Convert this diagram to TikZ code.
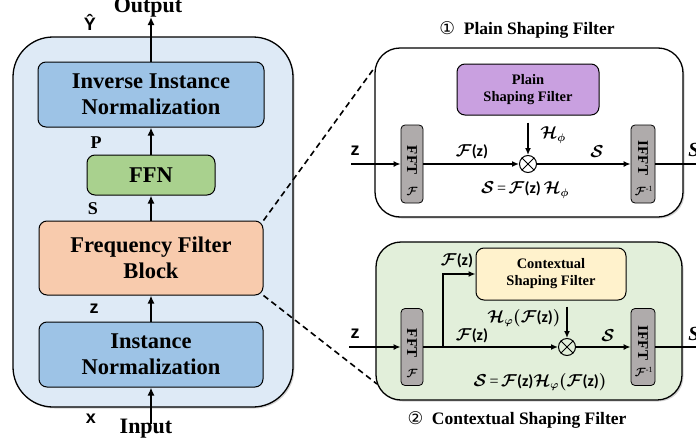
\documentclass[tikz,border=0pt]{standalone}
\usepackage{fontspec}
\setmainfont{Liberation Serif}
\setsansfont{Carlito}
\newfontfamily\lsans{Liberation Sans}
\newfontfamily\symfont{DejaVu Sans}
\usetikzlibrary{arrows.meta,shadows}

\definecolor{outerblue}{HTML}{DEEAF6}
\definecolor{boxblue}{HTML}{9DC3E6}
\definecolor{ffngreen}{HTML}{A9D18E}
\definecolor{ffborange}{HTML}{F8CBAD}
\definecolor{psfpurple}{HTML}{C9A0E0}
\definecolor{csfyellow}{HTML}{FFF2CC}
\definecolor{panelgreen}{HTML}{E2EFDA}
\definecolor{fftgray}{HTML}{AFABAB}

\newcommand\Fz{$\mathcal{F}$\textsf{\bfseries(z)}}
\newcommand\Finv{$\mathcal{F}$\textsuperscript{-1}}

\begin{document}
\begin{tikzpicture}[x=1pt,y=-1pt,
  blk/.style={draw=black, line width=1pt, rounded corners=8pt, align=center,
    font=\fontsize{22.5}{26}\selectfont\bfseries, inner sep=0pt},
  smallblk/.style={blk, font=\fontsize{14.5}{17}\selectfont\bfseries},
  panel/.style={draw=black, line width=1.3pt, inner sep=0pt,
    drop shadow={opacity=0.35, shadow xshift=1.5pt, shadow yshift=-1.5pt}},
  fftbox/.style={draw=black, line width=0.8pt, fill=fftgray, rounded corners=4pt,
    minimum width=22, minimum height=78, inner sep=0pt},
  ffttxt/.style={font=\fontsize{15}{15}\selectfont\bfseries, inner sep=0pt},
  ot/.style={circle, draw=black, line width=1pt, minimum size=17, inner sep=0pt},
  arr/.style={line width=2.4pt, -{Latex[length=8pt,width=7pt]}},
  arr2/.style={line width=1.4pt, -{Latex[length=7pt,width=6pt]}},
  plainline/.style={line width=1.4pt},
  dashline/.style={line width=1.6pt, dash pattern=on 6pt off 4pt},
  lbl/.style={font=\fontsize{18}{18}\selectfont\bfseries, inner sep=0pt},
  slbl/.style={font=\fontsize{18}{18}\selectfont\lsans\bfseries, inner sep=0pt},
  mlbl/.style={font=\fontsize{16}{19}\selectfont\boldmath, inner sep=0pt},
  title/.style={font=\fontsize{17.5}{17.5}\selectfont\bfseries, inner sep=0pt}]

\useasboundingbox (0,0) rectangle (696,442);

% ---------- left: overall model ----------
\node[panel, fill=outerblue, rounded corners=40pt, minimum width=280, minimum height=370]
  (outer) at (153,222) {};

\node[blk, fill=boxblue, minimum width=226, minimum height=65] (iin) at (151,94.5)
  {Inverse Instance\\Normalization};
\node[blk, fill=ffngreen, minimum width=128, minimum height=40] (ffn) at (151,175) {FFN};
\node[blk, fill=ffborange, minimum width=224, minimum height=74] (ffb) at (151,258)
  {Frequency Filter\\Block};
\node[blk, fill=boxblue, minimum width=224, minimum height=65] (inn) at (151,354.5)
  {Instance\\Normalization};

\coordinate (xin) at (151,424);
\coordinate (yout) at (151,17);
\draw[arr] (xin) -- (inn.south);
\draw[arr] (inn.north) -- (ffb.south);
\draw[arr] (ffb.north) -- (ffn.south);
\draw[arr] (ffn.north) -- (iin.south);
\draw[arr] (iin.north) -- (yout);

\node[lbl, font=\fontsize{22}{22}\selectfont\bfseries] (outlbl) at (148,8) {Output};
\node[lbl, font=\fontsize{22}{22}\selectfont\bfseries] (inlbl) at (146,429) {Input};
\node[slbl] (ylbl) at (90,22) {\^{Y}};
\node[lbl] (plbl) at (96,143) {P};
\node[lbl] (slbl) at (93,209) {S};
\node[slbl] (zlbl) at (94,309) {z};
\node[slbl] (xlbl) at (91,419) {x};

% ---------- right top: plain shaping filter ----------
\node[panel, fill=white, rounded corners=25pt, minimum width=308, minimum height=169]
  (pA) at (529,132.5) {};
\node[title] (tA) at (527,30) {{\symfont\mdseries ①}\enspace Plain Shaping Filter};

\node[smallblk, fill=psfpurple, minimum width=142, minimum height=51] (psf) at (528,89.5)
  {Plain\\Shaping Filter};
\node[fftbox] (fa) at (412,164) {};
\node[ffttxt, rotate=-90] (faT) at (412,160) {FFT};
\node[mlbl, font=\fontsize{12}{12}\selectfont\boldmath] (faF) at (412,191) {$\mathcal{F}$};
\node[fftbox, minimum width=24] (fb) at (643,164) {};
\node[ffttxt, rotate=-90] (fbT) at (643,158) {IFFT};
\node[mlbl, font=\fontsize{12}{12}\selectfont\boldmath] (fbF) at (644,191) {\Finv};
\node[ot] (oa) at (528,164) {};
\draw[line width=1pt] (oa.north west) -- (oa.south east) (oa.north east) -- (oa.south west);

\coordinate (zA) at (351,164);
\coordinate (outA) at (700,164);
\draw[arr2] (zA) -- (fa.west);
\draw[arr2] (fa.east) -- (oa.west);
\draw[arr2, shorten <=7pt] (psf.south) -- (oa.north);
\draw[arr2] (oa.east) -- (fb.west);
\draw[plainline] (fb.east) -- (outA);

\node[slbl] (zA lbl) at (355,151) {z};
\node[mlbl] (fzA) at (472,152) {\Fz};
\node[mlbl] (hA) at (553,135) {$\mathcal{H}_\phi$};
\node[mlbl] (sA) at (597,152) {$\mathcal{S}$};
\node[mlbl] (eqA) at (525,190) {$\mathcal{S}$\,=\,\Fz\,$\mathcal{H}_\phi$};
\node[lbl, font=\fontsize{20}{20}\selectfont\bfseries\itshape] (sAout) at (694,150) {S};

% ---------- right bottom: contextual shaping filter ----------
\node[panel, fill=panelgreen, rounded corners=25pt, minimum width=306, minimum height=158]
  (pB) at (529,321) {};
\node[title] (tB) at (517,420) {{\symfont\mdseries ②}\enspace Contextual Shaping Filter};

\node[smallblk, fill=csfyellow, minimum width=150, minimum height=52] (csf) at (551,274)
  {Contextual\\Shaping Filter};
\node[fftbox, minimum height=77] (fc) at (412,347) {};
\node[ffttxt, rotate=-90] (fcT) at (412,343) {FFT};
\node[mlbl, font=\fontsize{12}{12}\selectfont\boldmath] (fcF) at (412,373) {$\mathcal{F}$};
\node[fftbox, minimum width=24, minimum height=77] (fd) at (643,347) {};
\node[ffttxt, rotate=-90] (fdT) at (643,343) {IFFT};
\node[mlbl, font=\fontsize{12}{12}\selectfont\boldmath] (fdF) at (644,372) {\Finv};
\node[ot] (ob) at (567,347) {};
\draw[line width=1pt] (ob.north west) -- (ob.south east) (ob.north east) -- (ob.south west);

\coordinate (zB) at (349,347);
\coordinate (br) at (443,347);
\coordinate (outB) at (700,347);
\draw[arr2] (zB) -- (fc.west);
\draw[arr2] (fc.east) -- (ob.west);
\draw[arr2] (br) |- (csf.west);
\draw[arr2, shorten <=6pt] (csf.south -| ob.north) -- (ob.north);
\draw[arr2] (ob.east) -- (fd.west);
\draw[plainline] (fd.east) -- (outB);

\node[slbl] (zB lbl) at (355,334) {z};
\node[mlbl] (fzB1) at (457,261) {\Fz};
\node[mlbl] (fzB2) at (472,336) {\Fz};
\node[mlbl] (hB) at (524,318) {$\mathcal{H}_\varphi($\Fz$)$};
\node[mlbl] (sB) at (608,336) {$\mathcal{S}$};
\node[mlbl] (eqB) at (540,382) {$\mathcal{S}$\,=\,\Fz$\mathcal{H}_\varphi($\Fz$)$};
\node[lbl, font=\fontsize{20}{20}\selectfont\bfseries\itshape] (sBout) at (694,334) {S};

% ---------- zoom-out connectors ----------
\coordinate (dA) at (375,67);
\coordinate (dB) at (377,384);
\draw[dashline] (ffb.north east) -- (dA);
\draw[dashline] (ffb.south east) -- (dB);

\end{tikzpicture}
\end{document}
